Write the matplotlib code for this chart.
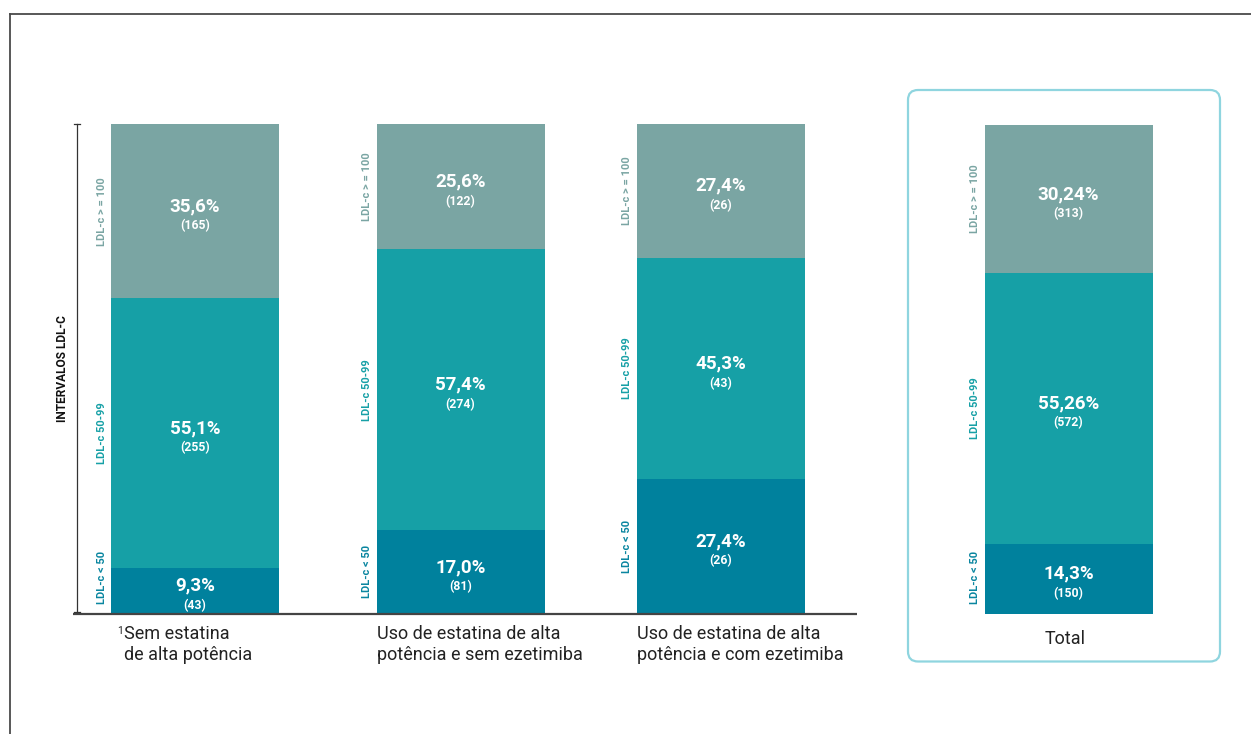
import matplotlib
matplotlib.use("Agg")
import matplotlib.pyplot as plt
from matplotlib.patches import FancyBboxPatch
from matplotlib.lines import Line2D
import numpy as np

# ---- data -------------------------------------------------------------
groups = ["Sem estatina\nde alta potência",
          "Uso de estatina de alta\npotência e sem ezetimiba",
          "Uso de estatina de alta\npotência e com ezetimiba",
          "Total"]
ranges = ["LDL-c < 50", "LDL-c 50-99", "LDL-c > = 100"]
pct_low = [9.3, 17.0, 27.4, 14.3]
pct_mid = [55.1, 57.4, 45.3, 55.26]
pct_high = [35.6, 25.6, 27.4, 30.24]
pct_text_low = ["9,3%", "17,0%", "27,4%", "14,3%"]
pct_text_mid = ["55,1%", "57,4%", "45,3%", "55,26%"]
pct_text_high = ["35,6%", "25,6%", "27,4%", "30,24%"]
n_low = [43, 81, 26, 150]
n_mid = [255, 274, 43, 572]
n_high = [165, 122, 26, 313]

# ---- style ------------------------------------------------------------
W, H = 1251, 734
colors = ["#00819d", "#16a0a6", "#7aa5a3"]
label_colors = ["#0a86a0", "#16a0a6", "#7aa5a3"]
font = ["Roboto", "DejaVu Sans"]
plt.rcParams["font.family"] = font

fig = plt.figure(figsize=(W / 100, H / 100), dpi=100)
fig.patch.set_facecolor("white")

def fx(px):
    return px / W

def fy(py):
    return 1 - py / H

# plotting area: y=0 at baseline, y=100 at bar tops
y_base, y_top = 613.5, 124.0
ax = fig.add_axes([0, fy(y_base), 1, (y_base - y_top) / H])
ax.set_xlim(0, W)
ax.set_ylim(0, 100)
ax.axis("off")
px_per_unit = (y_base - y_top) / 100.0

centers = [195, 460.5, 720.5, 1068.5]
bar_w = 168

# outer frame lines (top and left)
fig.add_artist(Line2D([fx(9.5), fx(W)], [fy(13.5), fy(13.5)],
                      color="#4a4a4a", lw=1.3))
fig.add_artist(Line2D([fx(9.5), fx(9.5)], [fy(13.5), fy(H)],
                      color="#4a4a4a", lw=1.3))

# box around the total column
box = FancyBboxPatch((fx(908), fy(661.5)), fx(1220) - fx(908), fy(90) - fy(661.5),
                     boxstyle="round,pad=0,rounding_size=0.008",
                     transform=fig.transFigure, fill=False,
                     edgecolor="#8fd5df", lw=1.6, mutation_aspect=W / H)
fig.add_artist(box)

# stacked bars
series = [pct_low, pct_mid, pct_high]
texts = [pct_text_low, pct_text_mid, pct_text_high]
counts = [n_low, n_mid, n_high]
bottom = np.zeros(len(groups))
for k, vals in enumerate(series):
    vals = np.array(vals)
    ax.bar(centers, vals, width=bar_w, bottom=bottom, color=colors[k],
           edgecolor="none", align="center")
    for i, c in enumerate(centers):
        mid = bottom[i] + vals[i] / 2
        ax.annotate(texts[k][i], (c, mid), xytext=(0, 3.5), textcoords="offset points",
                    ha="center", va="center", color="white",
                    fontsize=13.5, fontweight="bold")
        ax.annotate(f"({counts[k][i]})", (c, mid), xytext=(0, -10.5),
                    textcoords="offset points", ha="center", va="center",
                    color="white", fontsize=8.8, fontweight="bold")
        # range label beside each segment, kept inside the bar span
        half_len = 36 / px_per_unit
        ly = max(mid, half_len)
        ax.annotate(ranges[k], (c - bar_w / 2, ly), xytext=(-6.5, 0),
                    textcoords="offset points", ha="center", va="center",
                    rotation=90, color=label_colors[k], fontsize=8,
                    fontweight="bold")
    bottom += vals

# baseline under the three groups
ax.plot([73, 857], [0, 0], color="#444444", lw=1.6, clip_on=False,
        solid_capstyle="butt")

# bracket for the LDL-c intervals
ax.plot([77, 77], [0.3, 100], color="#333333", lw=0.9, clip_on=False)
ax.plot([74, 80], [100, 100], color="#333333", lw=0.9, clip_on=False)
ax.plot([74, 80], [0.3, 0.3], color="#333333", lw=0.9, clip_on=False)
ax.text(62, 50, "INTERVALOS LDL-C", rotation=90, ha="center", va="center",
        fontsize=8.6, fontweight="bold", color="#111111")

# group labels below the bars
label_left = [124, 377, 637]
for i in range(3):
    ax.annotate(groups[i], (label_left[i], 0), xytext=(0, -8),
                textcoords="offset points", ha="left", va="top",
                fontsize=13, color="#222222", linespacing=1.25)
ax.annotate("1", (117, 0), xytext=(0, -9), textcoords="offset points",
            ha="left", va="top", fontsize=7.5, color="#222222")
ax.annotate(groups[3], (centers[3] - 3, 0), xytext=(0, -12),
            textcoords="offset points", ha="center", va="top",
            fontsize=13, color="#222222")

fig.savefig("out.png", dpi=100, facecolor="white")
